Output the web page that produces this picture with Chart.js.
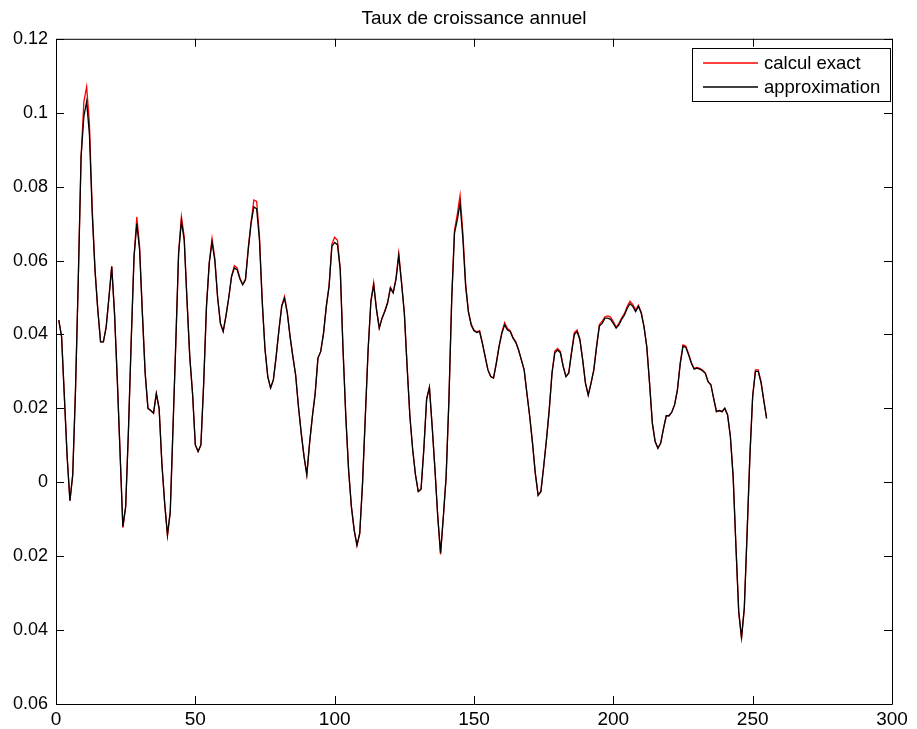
<!DOCTYPE html>
<html>
<head>
<meta charset="utf-8">
<script src="https://cdn.jsdelivr.net/npm/chart.js@4.4.1/dist/chart.umd.min.js"></script>
<style>
  html, body { margin: 0; padding: 0; background: #fff; }
  #wrap { width: 917px; height: 729px; }
</style>
</head>
<body>
<div id="wrap"><canvas id="growthChart"></canvas></div>
<script>
// Taux de croissance annuel - calcul exact vs approximation
const periods = Array.from({length: 255}, (_, i) => i + 1);

const calculExact = [
  0.0439, 0.0394, 0.0232, 0.0069, -0.005, 0.002, 0.025, 0.055, 0.088, 0.103,
  0.107, 0.097, 0.074, 0.0574, 0.0466, 0.038, 0.038, 0.042, 0.050, 0.0585,
  0.0457, 0.0277, 0.0078, -0.0123, -0.0066, 0.0141, 0.0385, 0.061, 0.0718, 0.0638,
  0.0457, 0.0295, 0.020, 0.0194, 0.0187, 0.024, 0.020, 0.005, -0.0057, -0.0145,
  -0.008, 0.015, 0.038, 0.062, 0.0719, 0.0665, 0.0494, 0.034, 0.024, 0.0101,
  0.0083, 0.0101, 0.0268, 0.0476, 0.0595, 0.066, 0.0605, 0.050, 0.043, 0.0408,
  0.045, 0.050, 0.0557, 0.0586, 0.058, 0.0553, 0.0536, 0.055, 0.0635, 0.0705,
  0.0764, 0.076, 0.0668, 0.049, 0.036, 0.0286, 0.0255, 0.0277, 0.034, 0.0412,
  0.0478, 0.0503, 0.046, 0.0394, 0.034, 0.029, 0.0205, 0.0133, 0.007, 0.002,
  0.0106, 0.0178, 0.024, 0.0336, 0.0354, 0.0403, 0.0476, 0.0533, 0.0645, 0.0663,
  0.0655, 0.0578, 0.036, 0.0178, 0.0033, -0.0066, -0.013, -0.0172, -0.0139, -0.0003,
  0.0178, 0.0358, 0.049, 0.054, 0.0469, 0.0417, 0.0444, 0.0464, 0.0487, 0.0528,
  0.0514, 0.0552, 0.062, 0.0542, 0.0458, 0.0313, 0.0178, 0.0088, 0.002, -0.0025,
  -0.0019, 0.009, 0.0225, 0.0257, 0.015, 0.0033, -0.0094, -0.0195, -0.0094, 0.0015,
  0.0223, 0.0497, 0.0682, 0.0725, 0.0777, 0.0675, 0.0538, 0.0463, 0.0428, 0.0412,
  0.0407, 0.041, 0.0378, 0.034, 0.0304, 0.0286, 0.0282, 0.0322, 0.0369, 0.0406,
  0.0432, 0.0416, 0.041, 0.0392, 0.038, 0.0358, 0.0331, 0.0304, 0.024, 0.0178,
  0.0106, 0.0024, -0.0036, -0.0026, 0.0042, 0.0115, 0.0196, 0.0297, 0.0355, 0.0362,
  0.0354, 0.0315, 0.0286, 0.0297, 0.0353, 0.0405, 0.0412, 0.0388, 0.0331, 0.0268,
  0.0236, 0.0268, 0.0304, 0.0369, 0.0427, 0.0436, 0.0448, 0.045, 0.0447, 0.0435,
  0.042, 0.043, 0.0445, 0.0457, 0.0476, 0.049, 0.0481, 0.0466, 0.0479, 0.046,
  0.0422, 0.0367, 0.0268, 0.016, 0.011, 0.0092, 0.0106, 0.0145, 0.018, 0.018,
  0.019, 0.021, 0.025, 0.0323, 0.0372, 0.0369, 0.0348, 0.0324, 0.0308, 0.0311,
  0.0308, 0.0304, 0.0296, 0.0272, 0.0264, 0.0227, 0.0191, 0.0194, 0.0191, 0.020,
  0.0182, 0.0124, 0.0015, -0.0175, -0.0352, -0.0423, -0.0342, -0.0138, 0.007, 0.0233,
  0.0304, 0.0304, 0.0272, 0.0222, 0.0173
];

const approximation = [
  0.0439, 0.0394, 0.0232, 0.0069, -0.005, 0.002, 0.025, 0.055, 0.088, 0.099,
  0.103, 0.094, 0.0727, 0.0574, 0.0466, 0.038, 0.038, 0.042, 0.050, 0.0583,
  0.0457, 0.0277, 0.0078, -0.012, -0.0066, 0.0141, 0.0385, 0.061, 0.070, 0.0628,
  0.0457, 0.0295, 0.020, 0.0194, 0.0187, 0.024, 0.020, 0.005, -0.0057, -0.0142,
  -0.008, 0.015, 0.038, 0.062, 0.0706, 0.0656, 0.0494, 0.034, 0.024, 0.0101,
  0.0083, 0.0101, 0.0268, 0.0476, 0.0593, 0.065, 0.060, 0.050, 0.043, 0.0408,
  0.045, 0.050, 0.0557, 0.058, 0.0575, 0.055, 0.0534, 0.0548, 0.063, 0.070,
  0.0745, 0.074, 0.0656, 0.049, 0.036, 0.0286, 0.0255, 0.0277, 0.034, 0.0412,
  0.0476, 0.0498, 0.0458, 0.0394, 0.034, 0.029, 0.0205, 0.0133, 0.007, 0.002,
  0.0106, 0.0178, 0.024, 0.0336, 0.0354, 0.0403, 0.0476, 0.053, 0.0638, 0.0649,
  0.0643, 0.0575, 0.036, 0.0178, 0.0033, -0.0066, -0.0129, -0.017, -0.0138, -0.0003,
  0.0178, 0.0358, 0.0489, 0.0534, 0.0467, 0.0417, 0.0444, 0.0462, 0.0485, 0.0525,
  0.0512, 0.0548, 0.0613, 0.0539, 0.0458, 0.0313, 0.0178, 0.0088, 0.002, -0.0025,
  -0.0019, 0.009, 0.0225, 0.0257, 0.015, 0.0033, -0.0093, -0.0192, -0.0093, 0.0015,
  0.0223, 0.0494, 0.0674, 0.071, 0.0755, 0.066, 0.053, 0.046, 0.0425, 0.041,
  0.0405, 0.0408, 0.0376, 0.034, 0.0304, 0.0286, 0.0282, 0.0322, 0.0367, 0.0403,
  0.0426, 0.0412, 0.0408, 0.039, 0.0378, 0.0358, 0.0331, 0.0304, 0.024, 0.0178,
  0.0106, 0.0024, -0.0035, -0.0025, 0.0042, 0.0115, 0.0196, 0.0295, 0.035, 0.0358,
  0.035, 0.0313, 0.0286, 0.0295, 0.035, 0.040, 0.0408, 0.0385, 0.0331, 0.0268,
  0.0236, 0.0268, 0.0304, 0.0367, 0.0423, 0.043, 0.0444, 0.0444, 0.0441, 0.043,
  0.0417, 0.0426, 0.0441, 0.0453, 0.0471, 0.0483, 0.0476, 0.0462, 0.0476, 0.0458,
  0.0421, 0.0367, 0.0268, 0.016, 0.011, 0.0092, 0.0106, 0.0145, 0.018, 0.018,
  0.019, 0.021, 0.025, 0.032, 0.0368, 0.0365, 0.0345, 0.0322, 0.0306, 0.0309,
  0.0306, 0.0302, 0.0295, 0.0272, 0.0264, 0.0227, 0.0191, 0.0194, 0.0191, 0.020,
  0.0182, 0.0124, 0.0015, -0.0174, -0.035, -0.042, -0.034, -0.0138, 0.007, 0.0232,
  0.030, 0.030, 0.027, 0.022, 0.0173
];

// y tick labels as printed on the figure (bottom to top, minus signs are clipped there)
const yTickLabels = ['0.06', '0.04', '0.02', '0', '0.02', '0.04', '0.06', '0.08', '0.1', '0.12'];

const FONT = "'Liberation Sans', Arial, Helvetica, sans-serif";

// box, inward ticks on the four sides and the legend, matlab style
const matlabFrame = {
  id: 'matlabFrame',
  afterDraw(chart) {
    const ctx = chart.ctx;
    const a = chart.chartArea;
    const xs = chart.scales.x;
    const ys = chart.scales.y;
    const len = 8;
    ctx.save();
    ctx.strokeStyle = '#000';
    ctx.lineWidth = 1;
    ctx.beginPath();
    ctx.rect(a.left + 0.5, a.top + 0.5, a.right - a.left, a.bottom - a.top);
    xs.ticks.forEach(t => {
      const px = Math.round(xs.getPixelForValue(t.value)) + 0.5;
      ctx.moveTo(px, a.bottom); ctx.lineTo(px, a.bottom - len);
      ctx.moveTo(px, a.top); ctx.lineTo(px, a.top + len);
    });
    ys.ticks.forEach(t => {
      const py = Math.round(ys.getPixelForValue(t.value)) + 0.5;
      ctx.moveTo(a.left, py); ctx.lineTo(a.left + len, py);
      ctx.moveTo(a.right, py); ctx.lineTo(a.right - len, py);
    });
    ctx.stroke();

    // legend
    const bx = 692, by = 48, bw = 198, bh = 53;
    ctx.fillStyle = '#fff';
    ctx.fillRect(bx, by, bw, bh);
    ctx.strokeRect(bx + 0.5, by + 0.5, bw, bh);
    ctx.font = '18.5px ' + FONT;
    ctx.textBaseline = 'middle';
    chart.data.datasets.forEach((ds, i) => {
      const ry = by + 15 + i * 24;
      ctx.strokeStyle = ds.borderColor;
      ctx.lineWidth = 1.3;
      ctx.beginPath();
      ctx.moveTo(bx + 11, ry);
      ctx.lineTo(bx + 66, ry);
      ctx.stroke();
      ctx.fillStyle = '#000';
      ctx.fillText(ds.label, bx + 72, ry + 1);
    });
    ctx.restore();
  }
};

const data = {
  labels: periods,
  datasets: [
    {
      label: 'calcul exact',
      data: calculExact,
      borderColor: '#ff0000',
      borderWidth: 1.3,
      pointRadius: 0,
      tension: 0,
      order: 1
    },
    {
      label: 'approximation',
      data: approximation,
      borderColor: '#000000',
      borderWidth: 1.3,
      pointRadius: 0,
      tension: 0,
      order: 0
    }
  ]
};

const config = {
  type: 'line',
  data: data,
  options: {
    responsive: true,
    maintainAspectRatio: false,
    animation: false,
    layout: {
      padding: {left: 0, right: 25, top: 0, bottom: 0}
    },
    scales: {
      x: {
        type: 'linear',
        min: 0,
        max: 300,
        grid: {display: false, drawTicks: false},
        border: {display: false},
        ticks: {
          stepSize: 50,
          padding: 6,
          color: '#000',
          font: {family: FONT, size: 19, lineHeight: 1}
        },
        afterFit(scale) { scale.height = 25; }
      },
      y: {
        min: -0.06,
        max: 0.12,
        grid: {display: false, drawTicks: false},
        border: {display: false},
        ticks: {
          stepSize: 0.02,
          padding: 8,
          color: '#000',
          font: {family: FONT, size: 18},
          callback: (value, index) => yTickLabels[index]
        },
        afterFit(scale) { scale.width = 56; }
      }
    },
    plugins: {
      legend: {display: false},
      tooltip: {enabled: false},
      title: {
        display: true,
        fullSize: false,
        text: 'Taux de croissance annuel',
        color: '#000',
        font: {family: FONT, size: 19, weight: 'normal', lineHeight: 1.2},
        padding: {top: 7, bottom: 9}
      }
    }
  },
  plugins: [matlabFrame]
};

const ctx = document.getElementById('growthChart').getContext('2d');
const growthChart = new Chart(ctx, config);
</script>
</body>
</html>
